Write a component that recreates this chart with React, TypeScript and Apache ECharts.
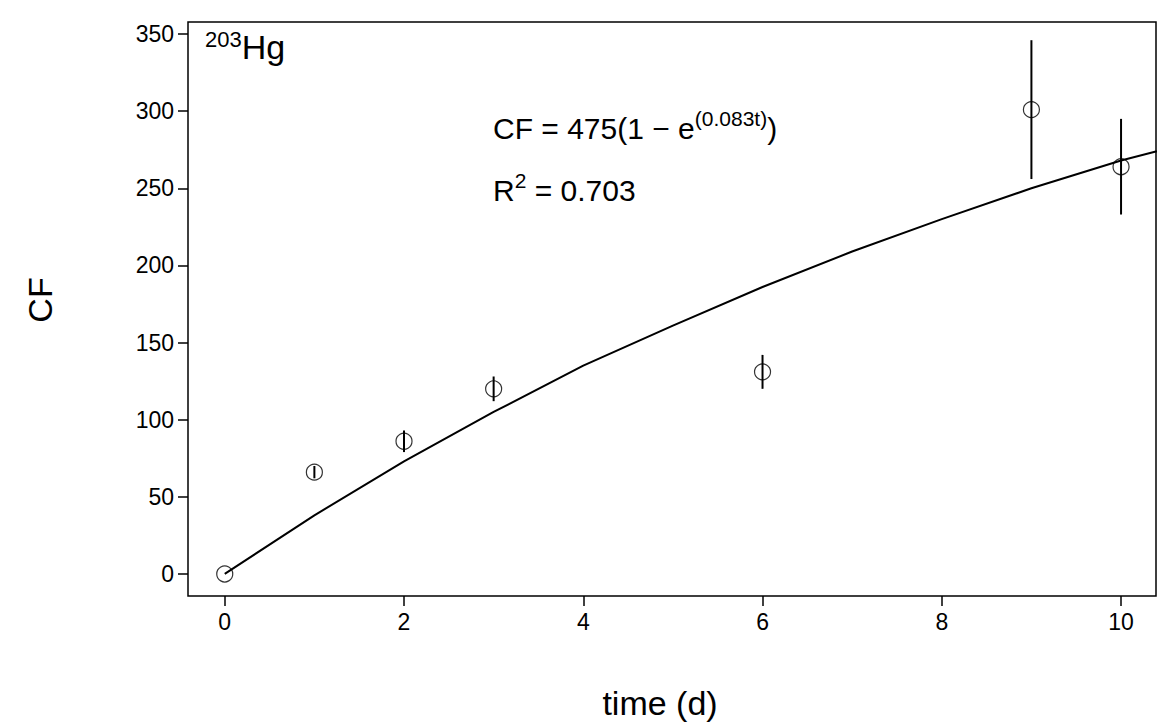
import React, { useEffect, useRef } from "react";
import * as echarts from "echarts";

const times = [0, 1, 2, 3, 6, 9, 10];
const cfValues = [0, 66, 86, 120, 131, 301, 264];
const cfErrors = [0, 4, 7, 8, 11, 45, 31];
const fitTimes = [0, 1, 2, 3, 4, 5, 6, 7, 8, 9, 10, 10.4];
const fitValues = [0, 38, 73, 105, 135, 161, 186, 209, 230, 250, 268, 274];
const xTicks = [0, 2, 4, 6, 8, 10];
const yTicks = [0, 50, 100, 150, 200, 250, 300, 350];

const FONT = "Liberation Sans, Arial, sans-serif";

const App: React.FC = () => {
  const ref = useRef<HTMLDivElement>(null);

  useEffect(() => {
    if (!ref.current) return;
    const chart = echarts.init(ref.current, null, { renderer: "svg" });
    const errData = times.map((t, i) => [t, cfValues[i] - cfErrors[i], cfValues[i] + cfErrors[i]]);
    const tick = { show: true, length: 10, lineStyle: { color: "#000", width: 1.5 } };
    const lbl = { show: true, fontSize: 23, fontFamily: FONT, color: "#000", margin: 14 };
    chart.setOption({
      animation: false,
      backgroundColor: "#fff",
      grid: { left: 188, right: 4, top: 22, bottom: 131, show: true, borderColor: "#000", borderWidth: 1.5 },
      xAxis: {
        type: "value", min: -0.41, max: 10.39,
        axisLine: { show: false, onZero: false }, splitLine: { show: false },
        axisTick: { ...tick, customValues: xTicks },
        axisLabel: { ...lbl, customValues: xTicks },
      },
      yAxis: {
        type: "value", min: -14.3, max: 357.8,
        axisLine: { show: false, onZero: false }, splitLine: { show: false },
        axisTick: { ...tick, customValues: yTicks },
        axisLabel: { ...lbl, customValues: yTicks },
      },
      series: [
        {
          type: "line", data: fitTimes.map((t, i) => [t, fitValues[i]]),
          symbol: "none", lineStyle: { color: "#000", width: 2 }, z: 2,
        },
        {
          type: "custom", data: errData, z: 3,
          renderItem: (params: any, api: any) => {
            const x = api.value(0);
            const lo = api.coord([x, api.value(1)]);
            const hi = api.coord([x, api.value(2)]);
            return { type: "line", shape: { x1: lo[0], y1: lo[1], x2: hi[0], y2: hi[1] }, style: { stroke: "#000", lineWidth: 2 } };
          },
        },
        {
          type: "scatter", data: times.map((t, i) => [t, cfValues[i]]),
          symbol: "circle", symbolSize: 16, z: 4,
          itemStyle: { color: "transparent", borderColor: "#000", borderWidth: 1.2 },
        },
      ],
      graphic: [
        { type: "text", x: 205, y: 28, style: { text: "{s|203}{b|Hg}", fill: "#000", rich: { s: { fontSize: 22, fontFamily: FONT, padding: [0, 0, 16, 0] }, b: { fontSize: 34, fontFamily: FONT } } } },
        { type: "text", x: 493, y: 108, style: { text: "{n|CF = 475(1 − e}{s|(0.083t)}{n|)}", fill: "#000", rich: { n: { fontSize: 30, fontFamily: FONT }, s: { fontSize: 21, fontFamily: FONT, padding: [0, 0, 20, 0] } } } },
        { type: "text", x: 493, y: 170, style: { text: "{n|R}{s|2}{n| = 0.703}", fill: "#000", rich: { n: { fontSize: 30, fontFamily: FONT }, s: { fontSize: 21, fontFamily: FONT, padding: [0, 0, 20, 0] } } } },
        { type: "text", x: 660, y: 703, style: { text: "time (d)", fontSize: 34, fontFamily: FONT, fill: "#000", align: "center", verticalAlign: "middle" } },
        { type: "text", x: 40, y: 300, rotation: Math.PI / 2, style: { text: "CF", fontSize: 34, fontFamily: FONT, fill: "#000", align: "center", verticalAlign: "middle" } },
      ],
    });
    return () => chart.dispose();
  }, []);

  return <div ref={ref} style={{ width: 1160, height: 727, position: "absolute", left: 0, top: 0 }} />;
};

export default App;
